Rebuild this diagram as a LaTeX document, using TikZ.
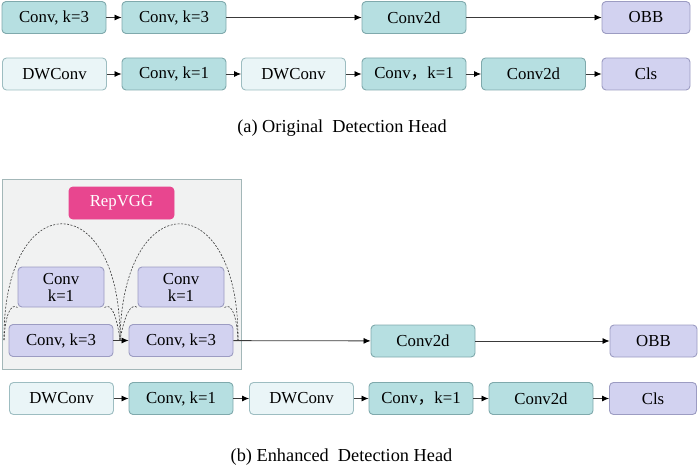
\documentclass[tikz,border=0pt]{standalone}
\usepackage{fontspec}
\setmainfont{Liberation Serif}
\newfontfamily\cjk{Noto Sans CJK SC}
\usetikzlibrary{arrows.meta}
\definecolor{tealfill}{HTML}{B6DFE1}
\definecolor{tealdraw}{HTML}{7FA9AC}
\definecolor{lightfill}{HTML}{EAF5F7}
\definecolor{lightdraw}{HTML}{9DBDC1}
\definecolor{purfill}{HTML}{D2D2F0}
\definecolor{purdraw}{HTML}{9C9CC2}
\definecolor{pinkfill}{HTML}{E8468F}
\definecolor{panelfill}{HTML}{F1F2F2}
\definecolor{paneldraw}{HTML}{A3B7B8}
\definecolor{linegray}{HTML}{3A3A3A}
\tikzset{
  box/.style={draw, line width=0.9pt, rounded corners=4pt, minimum width=104pt, minimum height=32pt, inner sep=0pt, font=\fontsize{16.8}{18}\selectfont, text=black},
  tealbox/.style={box, fill=tealfill, draw=tealdraw},
  lightbox/.style={box, fill=lightfill, draw=lightdraw},
  purbox/.style={box, fill=purfill, draw=purdraw, minimum width=88pt},
  kbox/.style={box, fill=purfill, draw=purdraw, minimum width=86pt, minimum height=40pt, align=center, font=\fontsize{16.8}{17}\selectfont},
  pinkbox/.style={box, fill=pinkfill, draw=pinkfill, minimum width=105pt, text=white},
  conn/.style={draw=linegray, line width=0.8pt, -{Latex[length=7pt,width=6pt,color=black]}},
  dashc/.style={draw=linegray, line width=0.6pt, dash pattern=on 2pt off 1.5pt},
  captext/.style={font=\fontsize{18.3}{20}\selectfont}
}
\begin{document}
\begin{tikzpicture}[x=1pt,y=-1pt]
\useasboundingbox (0,0) rectangle (700,468);
% ---- (a) ----
\node[tealbox] (a1) at (54,17.5) {Conv, k=3};
\node[tealbox] (a2) at (174,17.5) {Conv, k=3};
\node[tealbox] (a3) at (414,17.5) {Conv2d};
\node[purbox]  (a4) at (646,17.5) {OBB};
\draw[conn] (a1) -- (a2);
\draw[conn] (a2) -- (a3);
\draw[conn] (a3) -- (a4);

\node[lightbox] (b1) at (54.5,74) {DWConv};
\node[tealbox]  (b2) at (174,74) {Conv, k=1};
\node[lightbox] (b3) at (293.5,74) {DWConv};
\node[tealbox]  (b4) at (414,74) {Conv{\cjk ，}k=1};
\node[tealbox]  (b5) at (533.5,74) {Conv2d};
\node[purbox]   (b6) at (646,74) {Cls};
\draw[conn] (b1) -- (b2);
\draw[conn] (b2) -- (b3);
\draw[conn] (b3) -- (b4);
\draw[conn] (b4) -- (b5);
\draw[conn] (b5) -- (b6);

\node[captext] (capa) at (342,128) {(a) Original\ \ Detection Head};

% ---- (b) ----
\draw[fill=panelfill, draw=paneldraw, line width=1pt] (2,179) rectangle (241,369);
\node[pinkbox] (rep) at (121.5,203) {RepVGG};
\node[kbox] (c1) at (61,287) {Conv\\k=1};
\node[kbox] (c2) at (181,287) {Conv\\k=1};
\node[box, fill=purfill, draw=purdraw] (d1) at (61,340.5) {Conv, k=3};
\node[box, fill=purfill, draw=purdraw] (d2) at (181,340.5) {Conv, k=3};

\coordinate (l0) at (4,340);
\coordinate (l1) at (120,340);
\coordinate (l2) at (238,340);
\draw[dashc] (l0) .. controls (3,185) and (121,185) .. (l1);
\draw[dashc] (l1) .. controls (122,185) and (239,185) .. (l2);
\draw[dashc] (l0) .. controls (5,318) and (10,302) .. (c1.south west);
\draw[dashc] (c1.south east) .. controls (112,302) and (117,318) .. (l1);
\draw[dashc] (l1) .. controls (124,318) and (130,302) .. (c2.south west);
\draw[dashc] (c2.south east) .. controls (232,302) and (237,318) .. (l2);

\node[tealbox] (d3) at (423,341) {Conv2d};
\node[purbox, minimum width=87pt] (d4) at (653.5,341) {OBB};
\draw[conn] (d1) -- (d2);
\draw[conn] (d2) -- (d3);
\draw[conn] (d3) -- (d4);

\node[lightbox] (e1) at (61.5,398.5) {DWConv};
\node[tealbox]  (e2) at (181,398.5) {Conv, k=1};
\node[lightbox] (e3) at (301.5,398.5) {DWConv};
\node[tealbox]  (e4) at (421,398.5) {Conv{\cjk ，}k=1};
\node[tealbox]  (e5) at (541,398.5) {Conv2d};
\node[purbox, minimum width=87pt] (e6) at (653,398.5) {Cls};
\draw[conn] (e1) -- (e2);
\draw[conn] (e2) -- (e3);
\draw[conn] (e3) -- (e4);
\draw[conn] (e4) -- (e5);
\draw[conn] (e5) -- (e6);

\node[captext] (capb) at (341.5,457) {(b) Enhanced\ \ Detection Head};
\end{tikzpicture}
\end{document}
